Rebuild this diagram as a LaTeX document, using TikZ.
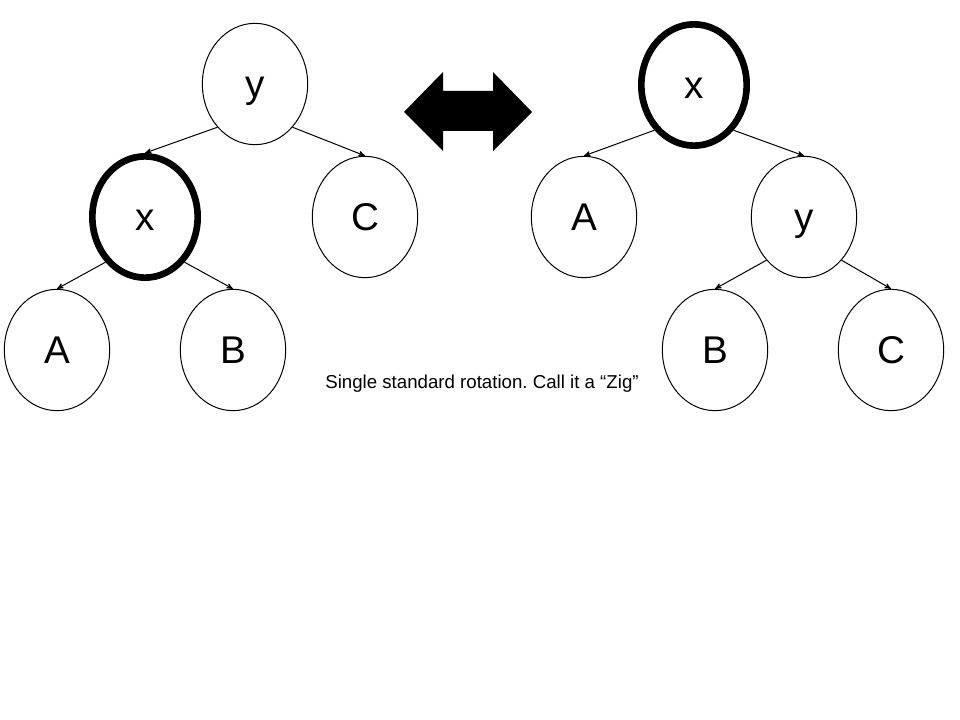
\documentclass[tikz,border=0pt]{standalone}
\usepackage{fontspec}
\setmainfont{Liberation Sans}
\usetikzlibrary{shapes.geometric,arrows,positioning}
\frenchspacing

\begin{document}
\begin{tikzpicture}[x=0.75pt,y=-0.75pt,>=stealth',line width=0.75pt,auto]
\tikzstyle{tree node}=[ellipse,draw,minimum width=79pt,minimum height=91pt,inner sep=0,text height=20.5pt,text depth=0pt,font=\fontsize{29}{34}\selectfont]
\tikzstyle{splay node}=[tree node,line width=5pt]
\tikzstyle{caption node}=[font=\fontsize{14}{17}\selectfont,inner sep=0]

\useasboundingbox (0,0) rectangle (960,720);

      % before the rotation
      \node[tree node] (yL) at (255,84) {y};
      \node[splay node] (xL) at (145,217) {x};
      \node[tree node] (cL) at (365,217) {C};
      \node[tree node] (aL) at (57,350) {A};
      \node[tree node] (bL) at (233,350) {B};

      % after the rotation
      \node[splay node] (xR) at (694,85) {x};
      \node[tree node] (aR) at (584,217) {A};
      \node[tree node] (yR) at (804,217) {y};
      \node[tree node] (bR) at (715,350) {B};
      \node[tree node] (cR) at (891,350) {C};

      \node[caption node] (zig) at (482,384) {Single standard rotation. Call it a “Zig”};

    \path[->]   (yL.south west) edge node {} (xL.north)
                (yL.south east) edge node {} (cL.north)
                (xL.south west) edge node {} (aL.north)
                (xL.south east) edge node {} (bL.north)
                (xR.south west) edge node {} (aR.north)
                (xR.south east) edge node {} (yR.north)
                (yR.south west) edge node {} (bR.north)
                (yR.south east) edge node {} (cR.north)
;

      % the two-way arrow
      \fill (404,112) -- (443,72) -- (443,91) -- (493,91) -- (493,72) -- (532,112)
            -- (493,151) -- (493,131) -- (443,131) -- (443,151) -- cycle;
\end{tikzpicture}
\end{document}
